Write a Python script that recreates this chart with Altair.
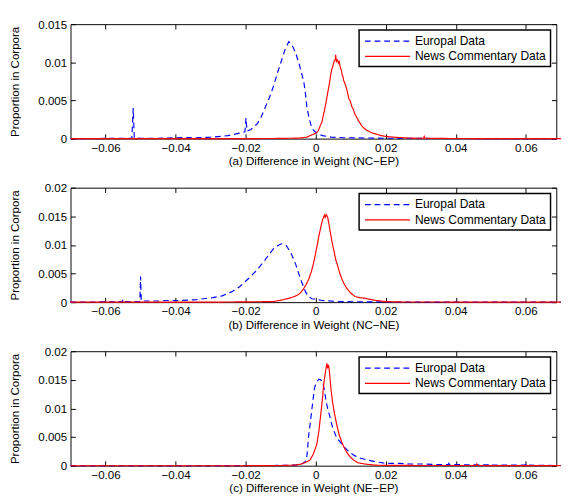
import altair as alt
import pandas as pd

SERIES = ["Europal Data", "News Commentary Data"]
X_TICKS = [-0.06, -0.04, -0.02, 0, 0.02, 0.04, 0.06]
Y_TICKS_A = [0, 0.005, 0.01, 0.015]
Y_TICKS_BC = [0, 0.005, 0.01, 0.015, 0.02]
TITLES = ["(a) Difference in Weight (NC\u2212EP)",
          "(b) Difference in Weight (NC\u2212NE)",
          "(c) Difference in Weight (NE\u2212EP)"]

# ---- panel (a) ----
a_ep_x = [-0.07, -0.06, -0.0525, -0.0521, -0.0518, -0.05, -0.045, -0.04, -0.036, -0.035, -0.03, -0.027,
          -0.025, -0.023, -0.021, -0.0202, -0.0199, -0.0196, -0.0185, -0.0166, -0.0155, -0.0144, -0.0132,
          -0.0121, -0.011, -0.0098, -0.0088, -0.0077, -0.0071, -0.0066, -0.0057, -0.0048, -0.0041, -0.0034,
          -0.0029, -0.0025, -0.0018, -0.0011, -0.0002, 0.0007, 0.002, 0.0044, 0.008, 0.012, 0.018, 0.025,
          0.035, 0.05, 0.07]
a_ep_y = [0, 0.00003, 0.00005, 0.0040, 0.0001, 0.00005, 0.00005, 0.0001, 0.00015, 0.0001, 0.0002, 0.0003,
          0.0004, 0.0006, 0.0008, 0.0009, 0.0027, 0.0010, 0.0012, 0.0020, 0.0029, 0.0041, 0.0054,
          0.0068, 0.0085, 0.0102, 0.0116, 0.0127, 0.0125, 0.0121, 0.0112, 0.0099, 0.0087, 0.0075,
          0.0058, 0.0041, 0.0025, 0.0014, 0.0009, 0.0006, 0.0004, 0.0002, 0.00012, 0.0001, 0.00006, 0.00004,
          0.00002, 0.00001, 0]
a_nc_x = [-0.07, -0.02, -0.01, -0.006, -0.0039, -0.0025, -0.0011, 0.0, 0.0007, 0.0014, 0.0018, 0.0021,
          0.0025, 0.0028, 0.0031, 0.0035, 0.0038, 0.004, 0.0043, 0.0046, 0.0048, 0.005, 0.0053, 0.0056,
          0.0057, 0.0059, 0.0062, 0.0065, 0.0067, 0.007, 0.0073, 0.0076, 0.0078, 0.008, 0.0083, 0.0085,
          0.0088, 0.009, 0.0093, 0.0095, 0.0098, 0.01, 0.0102, 0.0104, 0.0106, 0.0108, 0.0111, 0.0113,
          0.0116, 0.0118, 0.012, 0.0122, 0.0125, 0.0127, 0.0131, 0.0135, 0.014, 0.0145, 0.0151, 0.0158,
          0.0165, 0.0173, 0.0186, 0.02, 0.0225, 0.0255, 0.028, 0.0308, 0.031, 0.0312, 0.035, 0.045, 0.07]
a_nc_y = [0, 0, 0.00003, 0.00006, 0.0001, 0.0002, 0.0005, 0.0007, 0.0010, 0.0018, 0.0022, 0.0029,
          0.0037, 0.0044, 0.0051, 0.0062, 0.0069, 0.0075, 0.0084, 0.0091, 0.0093, 0.0097, 0.0102, 0.0104,
          0.0110, 0.0101, 0.0103, 0.0099, 0.0101, 0.0094, 0.0090, 0.0083, 0.0081, 0.0076, 0.0073, 0.0070,
          0.0066, 0.0062, 0.0056, 0.0052, 0.0050, 0.0047, 0.0044, 0.0041, 0.0040, 0.0037, 0.0034, 0.0031,
          0.0029, 0.0027, 0.0026, 0.0023, 0.0022, 0.0020, 0.0017, 0.0015, 0.0013, 0.0011, 0.0010, 0.0008,
          0.0007, 0.0006, 0.0004, 0.0003, 0.00018, 0.0001, 0.00006, 0.00005, 0.0003, 0.00005, 0.00003, 0.00001, 0]

# ---- panel (b) ----
b_ep_x = [-0.07, -0.06, -0.0552, -0.055, -0.0548, -0.0502, -0.05, -0.0498, -0.045, -0.042, -0.0385, -0.034,
          -0.0294, -0.0267, -0.024, -0.0217, -0.0194, -0.0171, -0.0148, -0.0121, -0.0105, -0.0098, -0.0084,
          -0.007, -0.0057, -0.0043, -0.0029, -0.002, -0.0011, 0.0, 0.0017, 0.007, 0.015, 0.03, 0.07]
b_ep_y = [0, 0.00005, 0.0001, 0.0005, 0.0001, 0.0001, 0.0045, 0.0002, 0.0002, 0.0003, 0.0003, 0.00045,
          0.0008, 0.0011, 0.0018, 0.0027, 0.0040, 0.0054, 0.0071, 0.0093, 0.0100, 0.0102, 0.0099,
          0.0085, 0.0066, 0.0040, 0.0018, 0.0010, 0.0006, 0.0005, 0.0003, 0.0001, 0.00005, 0.00002, 0]
b_nc_x = [-0.07, -0.03, -0.0121, -0.0095, -0.0075, -0.006, -0.0048, -0.0041, -0.0034, -0.0027, -0.002,
          -0.0013, -0.0007, -0.0001, 0.0005, 0.001, 0.0016, 0.002, 0.0023, 0.0025, 0.0027, 0.003, 0.0034,
          0.0038, 0.0043, 0.0047, 0.0052, 0.0057, 0.0063, 0.0069, 0.0075, 0.0082, 0.0089, 0.01, 0.0112,
          0.0125, 0.0139, 0.0155, 0.0171, 0.02, 0.025, 0.07]
b_nc_y = [0, 0, 0.0001, 0.0004, 0.0007, 0.0010, 0.0014, 0.0018, 0.0024, 0.0031, 0.0040,
          0.0052, 0.0066, 0.0083, 0.0102, 0.0118, 0.0135, 0.0145, 0.0149, 0.0152, 0.0148, 0.0153, 0.0149,
          0.0136, 0.0118, 0.0104, 0.0090, 0.0075, 0.0063, 0.0050, 0.0040, 0.0031, 0.0024, 0.0016, 0.0010,
          0.0008, 0.0007, 0.0005, 0.0003, 0.0001, 0.00003, 0]

# ---- panel (c) ----
c_ep_x = [-0.07, -0.03, -0.015, -0.01, -0.0061, -0.0045, -0.0034, -0.0027, -0.0025, -0.0023, -0.0021,
          -0.0016, -0.0011, -0.0007, -0.0003, 0.0003, 0.0009, 0.0014, 0.002, 0.0025, 0.0029, 0.0034, 0.004,
          0.0045, 0.0051, 0.0058, 0.0065, 0.0074, 0.0083, 0.0095, 0.011, 0.0128, 0.0147, 0.017, 0.0192,
          0.021, 0.0238, 0.027, 0.031, 0.035, 0.0378, 0.038, 0.0382, 0.045, 0.0498, 0.05, 0.0502, 0.055,
          0.0598, 0.06, 0.0602, 0.065, 0.07]
c_ep_y = [0, 0, 0.00003, 0.00005, 0.0001, 0.0002, 0.0005, 0.0009, 0.0018, 0.0030, 0.0048,
          0.0072, 0.0098, 0.0118, 0.0137, 0.0146, 0.0151, 0.0150, 0.0146, 0.0132, 0.0115, 0.0100, 0.0087,
          0.0074, 0.0062, 0.0052, 0.0045, 0.0038, 0.0032, 0.0024, 0.0018, 0.0013, 0.0010, 0.0007, 0.0005,
          0.0004, 0.0004, 0.0003, 0.0003, 0.0002, 0.0002, 0.0004, 0.0002, 0.00015, 0.00015, 0.0003, 0.00012, 0.0001,
          0.0001, 0.0003, 0.0001, 0.00005, 0.00003]
c_nc_x = [-0.07, -0.02, -0.01, -0.006, -0.004, -0.0028, -0.0016, -0.0007, 0.0003, 0.0009, 0.0014, 0.0019,
          0.0023, 0.0027, 0.003, 0.0032, 0.0034, 0.0036, 0.0038, 0.0041, 0.0044, 0.0048, 0.0053, 0.006,
          0.0067, 0.0074, 0.0081, 0.009, 0.0099, 0.011, 0.0122, 0.014, 0.0168, 0.02, 0.0458, 0.046, 0.0462, 0.07]
c_nc_y = [0, 0, 0.00003, 0.0001, 0.0003, 0.0006, 0.0010, 0.0020, 0.0037, 0.0060, 0.0087, 0.0115,
          0.0143, 0.0160, 0.0172, 0.0179, 0.0170, 0.0176, 0.0172, 0.0152, 0.0132, 0.0112, 0.0093, 0.0072,
          0.0054, 0.0042, 0.0032, 0.0022, 0.0015, 0.0009, 0.0005, 0.0003, 0.0001, 0.00005, 0.00003, 0.0003, 0.00003, 0]

FONT = "Liberation Sans"
X_DOMAIN = [-0.07, 0.0687]
PANEL_W = 505
PANEL_H = 119


def make_panel(ep_x, ep_y, nc_x, nc_y, ymax, yticks, xtitle):
    df = pd.concat([
        pd.DataFrame({"x": ep_x, "y": ep_y, "series": SERIES[0]}),
        pd.DataFrame({"x": nc_x, "y": nc_y, "series": SERIES[1]}),
    ], ignore_index=True)
    xscale = alt.Scale(domain=X_DOMAIN, nice=False, zero=False)
    yscale = alt.Scale(domain=[0, ymax], nice=False)
    common_axis = dict(offset=-5, tickSize=5, domain=False, grid=False, tickColor="black",
                       labelColor="black", labelFont=FONT, labelFontSize=12, titleFont=FONT,
                       titleFontSize=12, titleFontWeight="normal", titleColor="black", format=".4~g")
    bottom = alt.Axis(orient="bottom", values=X_TICKS, labelPadding=4, titlePadding=3, **common_axis)
    left = alt.Axis(orient="left", values=yticks, labelPadding=4, titlePadding=17, **common_axis)
    top = alt.Axis(orient="top", values=X_TICKS, labels=False, title=None, offset=-5, tickSize=5,
                   domain=False, grid=False, tickColor="black")
    right = alt.Axis(orient="right", values=yticks, labels=False, title=None, offset=-5, tickSize=5,
                     domain=False, grid=False, tickColor="black")
    color = alt.Color("series:N", scale=alt.Scale(domain=SERIES, range=["#0000ff", "#ff0000"]),
                      legend=alt.Legend(title=None))
    dash = alt.StrokeDash("series:N", scale=alt.Scale(domain=SERIES, range=[[6, 4], [1, 0]]),
                          legend=alt.Legend(title=None))
    lines = alt.Chart(df).mark_line(strokeWidth=1.2).encode(
        x=alt.X("x:Q", scale=xscale, axis=bottom, title=xtitle),
        y=alt.Y("y:Q", scale=yscale, axis=left, title="Proportion in Corpora"),
        color=color, strokeDash=dash,
    )
    frame = alt.Chart(df).mark_line(opacity=0).encode(
        x=alt.X("x:Q", scale=xscale, axis=top),
        y=alt.Y("y:Q", scale=yscale, axis=right),
    )
    return alt.layer(lines, frame).resolve_axis(x="independent", y="independent").properties(
        width=PANEL_W, height=PANEL_H)


pa = make_panel(a_ep_x, a_ep_y, a_nc_x, a_nc_y, 0.015, Y_TICKS_A, TITLES[0])
pb = make_panel(b_ep_x, b_ep_y, b_nc_x, b_nc_y, 0.02, Y_TICKS_BC, TITLES[1])
pc = make_panel(c_ep_x, c_ep_y, c_nc_x, c_nc_y, 0.02, Y_TICKS_BC, TITLES[2])

chart = alt.vconcat(pa, pb, pc, spacing=14).resolve_scale(
    color="independent", strokeDash="independent"
).resolve_legend(
    color="independent", strokeDash="independent"
).properties(
    padding=0
).configure_view(stroke="black", strokeWidth=1).configure_axis(
    labelFontSize=12, titleFontSize=12
).configure_legend(
    orient="top-right", offset=6, strokeColor="black", fillColor="white", padding=4, rowPadding=2,
    symbolType="M-3.6,0H3.6", symbolSize=169, symbolOffset=18, symbolStrokeWidth=1.3,
    labelFont=FONT, labelFontSize=12.5, labelColor="black", labelLimit=300, labelOffset=21,
    cornerRadius=0, strokeWidth=1.5
)

chart.save("out.html", embed_options={"renderer": "svg", "actions": False})
